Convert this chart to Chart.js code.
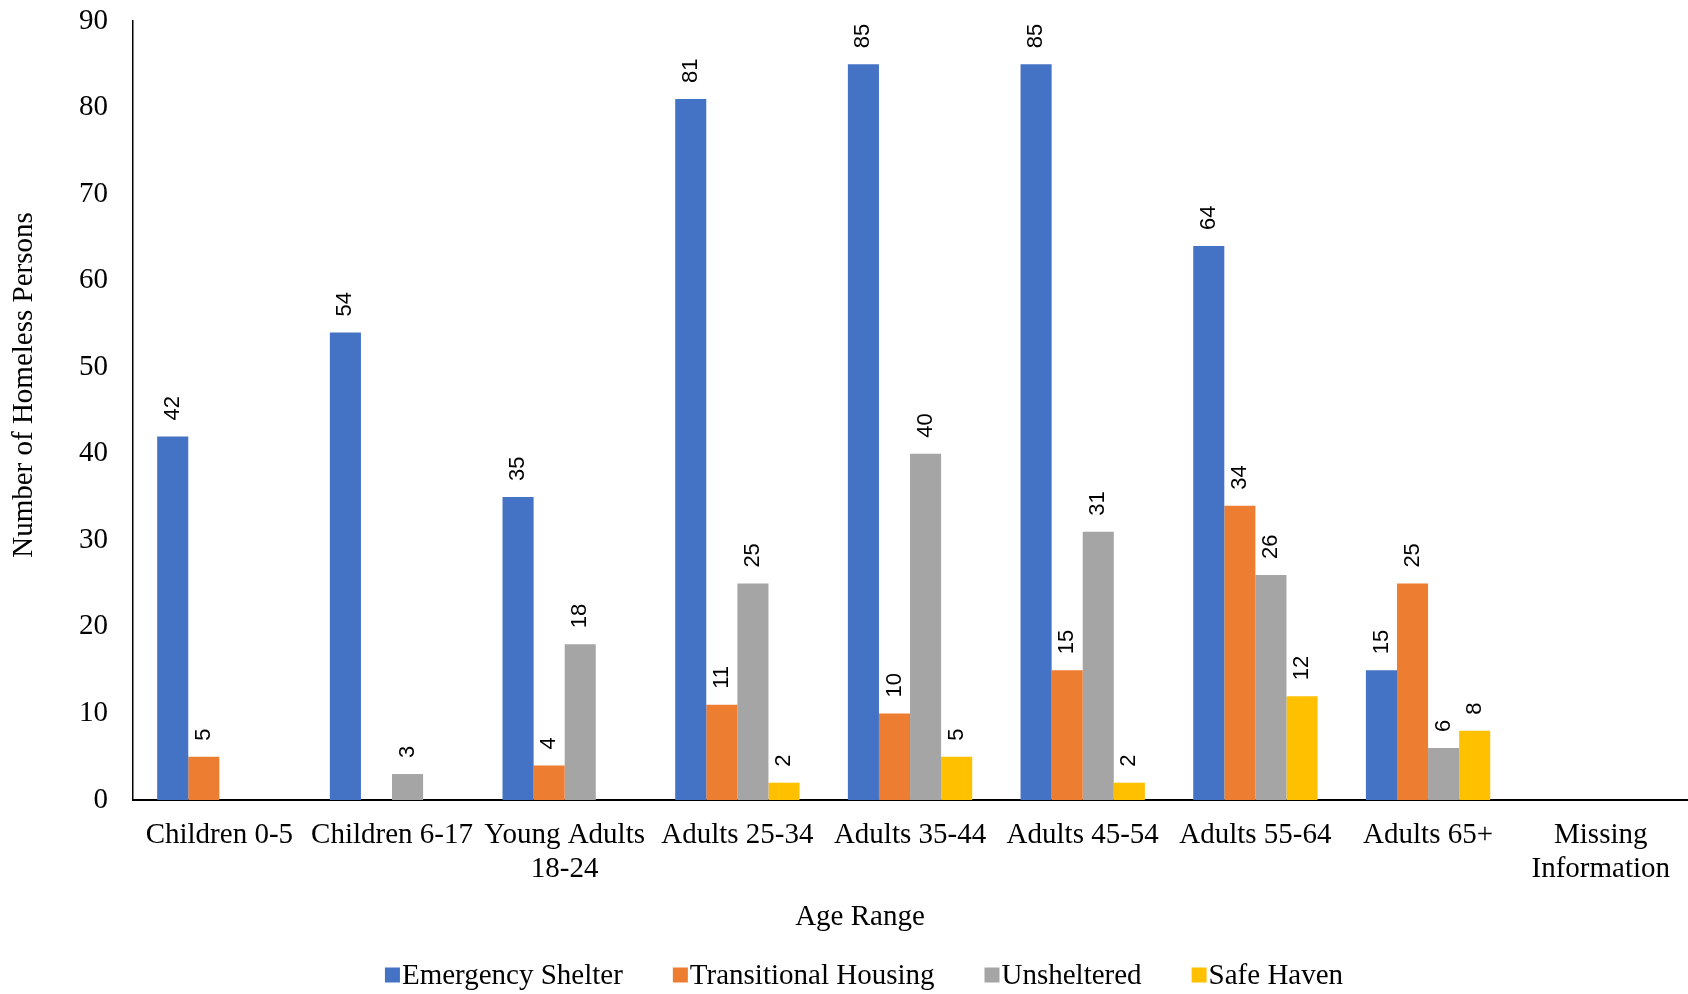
<!DOCTYPE html>
<html>
<head>
<meta charset="utf-8">
<script src="https://cdn.jsdelivr.net/npm/chart.js@4"></script>
<style>
  html, body { margin: 0; padding: 0; background: #fff; }
  #wrap { width: 1688px; height: 994px; }
</style>
</head>
<body>
<div id="wrap"><canvas id="ageChart" width="1688" height="994"></canvas></div>
<script>
const categories = [
    'Children 0-5', 'Children 6-17', ['Young Adults', '18-24'], 'Adults 25-34',
    'Adults 35-44', 'Adults 45-54', 'Adults 55-64', 'Adults 65+', ['Missing', 'Information']
];
const emergencyShelter = [42, 54, 35, 81, 85, 85, 64, 15, 0];
const transitionalHousing = [5, 0, 4, 11, 10, 15, 34, 25, 0];
const unsheltered = [0, 3, 18, 25, 40, 31, 26, 6, 0];
const safeHaven = [0, 0, 0, 2, 5, 2, 12, 8, 0];
const yTicks = [0, 10, 20, 30, 40, 50, 60, 70, 80, 90];

const serif = '"Liberation Serif", "Times New Roman", serif';
const sans = '"Liberation Sans", Arial, sans-serif';
const textSize = 29;

// rotated value above each bar
const barValues = {
    id: 'barValues',
    afterDatasetsDraw(chart) {
        const c = chart.ctx;
        c.save();
        c.font = '22px ' + sans;
        c.fillStyle = '#000';
        c.textAlign = 'left';
        c.textBaseline = 'middle';
        chart.data.datasets.forEach((ds, i) => {
            chart.getDatasetMeta(i).data.forEach((bar, j) => {
                const v = ds.data[j];
                if (!v) return;
                c.save();
                c.translate(bar.x, bar.y - 16);
                c.rotate(-Math.PI / 2);
                c.fillText(String(v), 0, 0);
                c.restore();
            });
        });
        c.restore();
    }
};

// axis titles and legend placed the way excel put them
const titlesAndLegend = {
    id: 'titlesAndLegend',
    afterDraw(chart) {
        const c = chart.ctx;
        c.save();
        c.font = textSize + 'px ' + serif;
        c.fillStyle = '#000';
        c.textBaseline = 'middle';
        c.textAlign = 'center';
        c.fillText('Age Range', 860, 917);

        c.save();
        c.translate(24, 385);
        c.rotate(-Math.PI / 2);
        c.fillText('Number of Homeless Persons', 0, 0);
        c.restore();

        const items = chart.data.datasets.map(ds => ({
            text: ds.label,
            color: ds.backgroundColor,
            w: c.measureText(ds.label).width
        }));
        const box = 15, gapIn = 2, gapOut = 50;
        let total = 0;
        items.forEach((it, k) => { total += box + gapIn + it.w + (k ? gapOut : 0); });
        let x = 864 - total / 2;
        const y = 975;
        c.textAlign = 'left';
        items.forEach(it => {
            c.fillStyle = it.color;
            c.fillRect(x, y - box / 2, box, box);
            c.fillStyle = '#000';
            c.fillText(it.text, x + box + gapIn, y + 1);
            x += box + gapIn + it.w + gapOut;
        });
        c.restore();
    }
};

function makeSet(label, values, color) {
    return {
        label: label,
        data: values,
        backgroundColor: color,
        borderWidth: 0,
        categoryPercentage: 0.72,
        barPercentage: 1.0
    };
}

const ctx = document.getElementById('ageChart').getContext('2d');
const chart = new Chart(ctx, {
    type: 'bar',
    data: {
        labels: categories,
        datasets: [
            makeSet('Emergency Shelter', emergencyShelter, '#4472C4'),
            makeSet('Transitional Housing', transitionalHousing, '#ED7D31'),
            makeSet('Unsheltered', unsheltered, '#A5A5A5'),
            makeSet('Safe Haven', safeHaven, '#FFC000')
        ]
    },
    options: {
        responsive: false,
        animation: false,
        layout: { padding: { top: 0, right: 0, left: 0, bottom: 0 } },
        scales: {
            x: {
                grid: { display: false, drawTicks: false },
                border: { color: '#000', width: 2 },
                ticks: {
                    color: '#000',
                    font: { family: serif, size: textSize, lineHeight: 1.17 },
                    padding: 18,
                    maxRotation: 0,
                    autoSkip: false
                },
                afterFit(scale) { scale.height = 194; }
            },
            y: {
                min: 0,
                max: 90,
                grid: { display: false, drawTicks: false },
                border: { color: '#000', width: 1.5 },
                afterBuildTicks(scale) { scale.ticks = yTicks.map(v => ({ value: v })); },
                ticks: {
                    color: '#000',
                    font: { family: serif, size: textSize },
                    padding: 25
                },
                afterFit(scale) {
                    scale.width = 133;
                    scale.paddingTop = 21;
                    scale.paddingBottom = 0;
                }
            }
        },
        plugins: {
            legend: { display: false },
            tooltip: { enabled: false }
        }
    },
    plugins: [barValues, titlesAndLegend]
});
</script>
</body>
</html>
